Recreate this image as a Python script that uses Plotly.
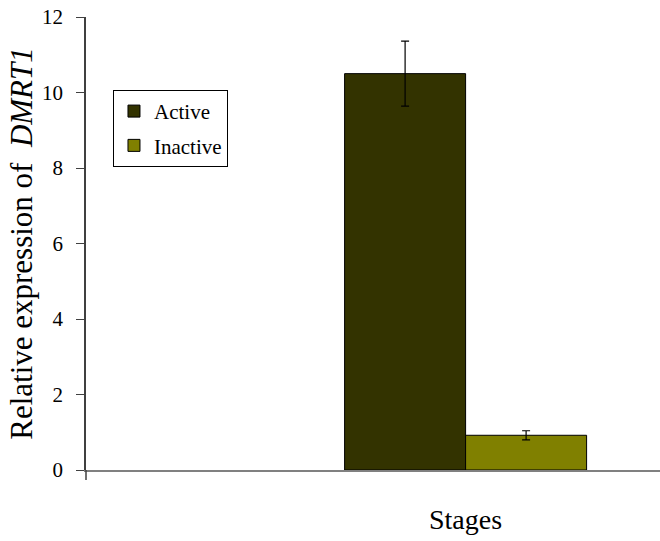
import plotly.graph_objects as go

# Relative DMRT1 expression for one stage, split by activity state
stage = ["Stages"]
series = ["Active", "Inactive"]
values = [10.5, 0.92]
errors = [0.86, 0.12]
colors = ["#333300", "#808000"]

font_family = "Times New Roman"

fig = go.Figure()
for name, val, err, col in zip(series, values, errors, colors):
    fig.add_trace(go.Bar(
        x=stage,
        y=[val],
        name=name,
        legendgroup=name,
        marker=dict(color=col, line=dict(color="#000000", width=1)),
        error_y=dict(type="data", array=[err], visible=True,
                     color="#000000", thickness=1.2, width=4),
    ))

fig.update_layout(
    width=660,
    height=541,
    margin=dict(l=86, r=0, t=17, b=71),
    paper_bgcolor="white",
    plot_bgcolor="white",
    barmode="group",
    bargap=0.395,
    bargroupgap=0,
    font=dict(family=font_family, color="#000000", size=21),
    showlegend=True,
    legend=dict(
        x=0.047, y=0.839, xanchor="left", yanchor="top",
        bordercolor="#000000", borderwidth=1, bgcolor="white",
        font=dict(family=font_family, size=21, color="#000000"),
        tracegroupgap=4,
        itemwidth=30,
    ),
)

fig.update_xaxes(
    type="category",
    range=[-0.949, 0.486],
    showline=True, linecolor="#808080", linewidth=1.5,
    showgrid=False, zeroline=False,
    showticklabels=False,
    ticks="",
)

fig.update_yaxes(
    range=[0, 12],
    tickvals=[0, 2, 4, 6, 8, 10, 12],
    showline=True, linecolor="#404040", linewidth=1.5,
    showgrid=False, zeroline=False,
    ticks="outside", ticklen=8, tickwidth=1.2, tickcolor="#404040",
    ticklabelstandoff=9,
    tickfont=dict(family=font_family, size=21, color="#000000"),
    title=dict(text="Relative expression of  <i>DMRT1</i>",
               font=dict(family=font_family, size=31, color="#000000"),
               standoff=0),
)

# Short downward tick where the category axis meets the value axis
fig.add_shape(type="line", xref="paper", yref="paper",
              x0=0, x1=0, y0=0, y1=-0.022,
              line=dict(color="#404040", width=1.5))

# Category-axis title centred under the bar group
fig.add_annotation(x=stage[0], xref="x", y=-0.11, yref="paper",
                   text="Stages", showarrow=False, yanchor="middle",
                   font=dict(family=font_family, size=28, color="#000000"))

fig.write_html("out.html")
